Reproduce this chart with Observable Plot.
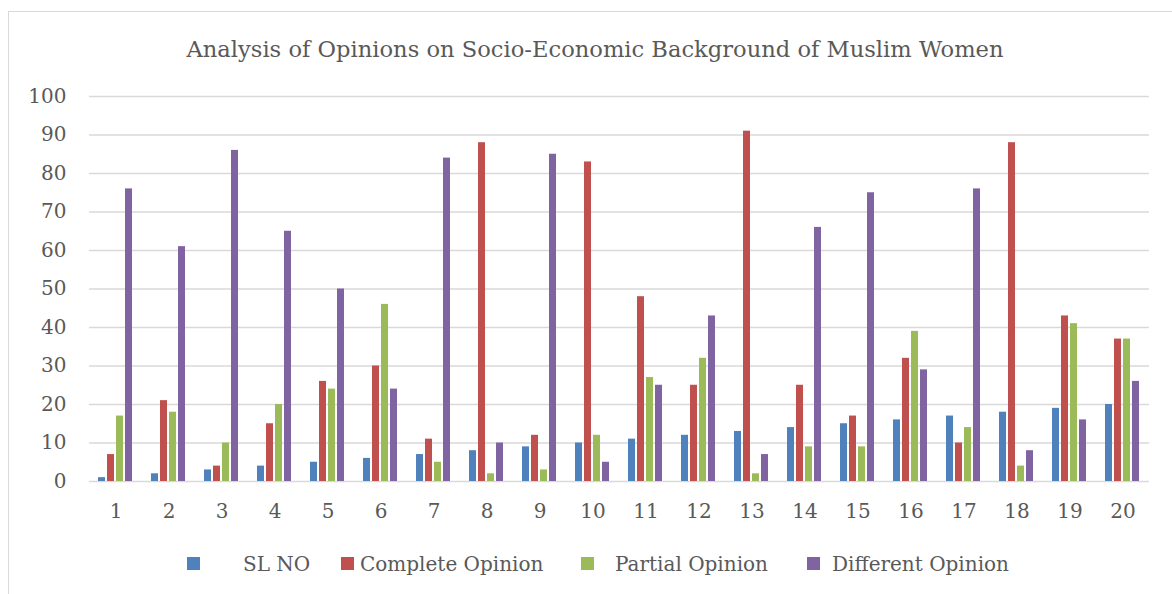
<!DOCTYPE html>
<html>
<head>
<meta charset="utf-8">
<script src="https://cdn.jsdelivr.net/npm/d3@7"></script>
<script src="https://cdn.jsdelivr.net/npm/@observablehq/plot@0.6"></script>
<style>
  html, body { margin: 0; padding: 0; background: #fff; overflow: hidden; }
  #wrap { position: relative; width: 1172px; height: 594px; overflow: hidden; font-family: "DejaVu Serif", serif; color: #595959; }
  #frame { position: absolute; left: 8px; top: 11px; width: 1200px; height: 640px; border: 1px solid #d9d9d9; box-sizing: border-box; }
  #title { position: absolute; left: 0; width: 1190px; top: 35px; text-align: center; font-size: 22.6px; line-height: 28px; white-space: nowrap; }
  #chart { position: absolute; left: 0; top: 80px; }
  .lg-sw { position: absolute; width: 13px; height: 13px; top: 557px; }
  .lg-tx { position: absolute; top: 551px; font-size: 20px; line-height: 26px; white-space: nowrap; }
</style>
</head>
<body>
<div id="wrap">
  <div id="frame"></div>
  <div id="title">Analysis of Opinions on Socio-Economic Background of Muslim Women</div>
  <div id="chart"></div>
  <div id="legend"></div>
</div>
<script>
// ---- data ----
const slNo = [1, 2, 3, 4, 5, 6, 7, 8, 9, 10, 11, 12, 13, 14, 15, 16, 17, 18, 19, 20];
const slNoValues = [1, 2, 3, 4, 5, 6, 7, 8, 9, 10, 11, 12, 13, 14, 15, 16, 17, 18, 19, 20];
const completeOpinion = [7, 21, 4, 15, 26, 30, 11, 88, 12, 83, 48, 25, 91, 25, 17, 32, 10, 88, 43, 37];
const partialOpinion = [17, 18, 10, 20, 24, 46, 5, 2, 3, 12, 27, 32, 2, 9, 9, 39, 14, 4, 41, 37];
const differentOpinion = [76, 61, 86, 65, 50, 24, 84, 10, 85, 5, 25, 43, 7, 66, 75, 29, 76, 8, 16, 26];
const seriesNames = ["SL NO", "Complete Opinion", "Partial Opinion", "Different Opinion"];
const seriesColors = ["#4F81BD", "#C0504D", "#9BBB59", "#8064A2"];
const yTicks = [0, 10, 20, 30, 40, 50, 60, 70, 80, 90, 100];

const seriesValues = [slNoValues, completeOpinion, partialOpinion, differentOpinion];
const rows = [];
slNo.forEach((c, i) => {
  seriesNames.forEach((s, j) => rows.push({cat: c, series: s, value: seriesValues[j][i]}));
});

const chart = Plot.plot({
  width: 1172,
  height: 450,
  marginTop: 16,
  marginBottom: 49,
  marginLeft: 88,
  marginRight: 22,
  style: {fontFamily: "DejaVu Serif", fontSize: "20px", color: "#595959", background: "transparent", overflow: "visible"},
  fx: {domain: slNo, padding: 0, label: null, tickSize: 0, tickPadding: 22, axis: "bottom"},
  x: {domain: seriesNames, paddingInner: 0.2, paddingOuter: 0.83, axis: null},
  y: {domain: [0, 100], ticks: yTicks, tickSize: 0, tickPadding: 23, label: null},
  color: {domain: seriesNames, range: seriesColors},
  marks: [
    Plot.ruleY(yTicks, {stroke: "#d9d9d9", strokeWidth: 1.4}),
    Plot.barY(rows, {fx: "cat", x: "series", y: "value", fill: "series", insetLeft: 0, insetRight: 0})
  ]
});
document.getElementById("chart").appendChild(chart);

// legend layout (Excel-style spacing)
const swatchLeft = [187, 341, 581, 807];
const textLeft = [243, 360, 615, 832];
const legend = document.getElementById("legend");
seriesNames.forEach((s, i) => {
  const sw = document.createElement("div");
  sw.className = "lg-sw";
  sw.style.left = swatchLeft[i] + "px";
  sw.style.background = seriesColors[i];
  legend.appendChild(sw);
  const tx = document.createElement("div");
  tx.className = "lg-tx";
  tx.style.left = textLeft[i] + "px";
  tx.textContent = s;
  legend.appendChild(tx);
});
</script>
</body>
</html>
